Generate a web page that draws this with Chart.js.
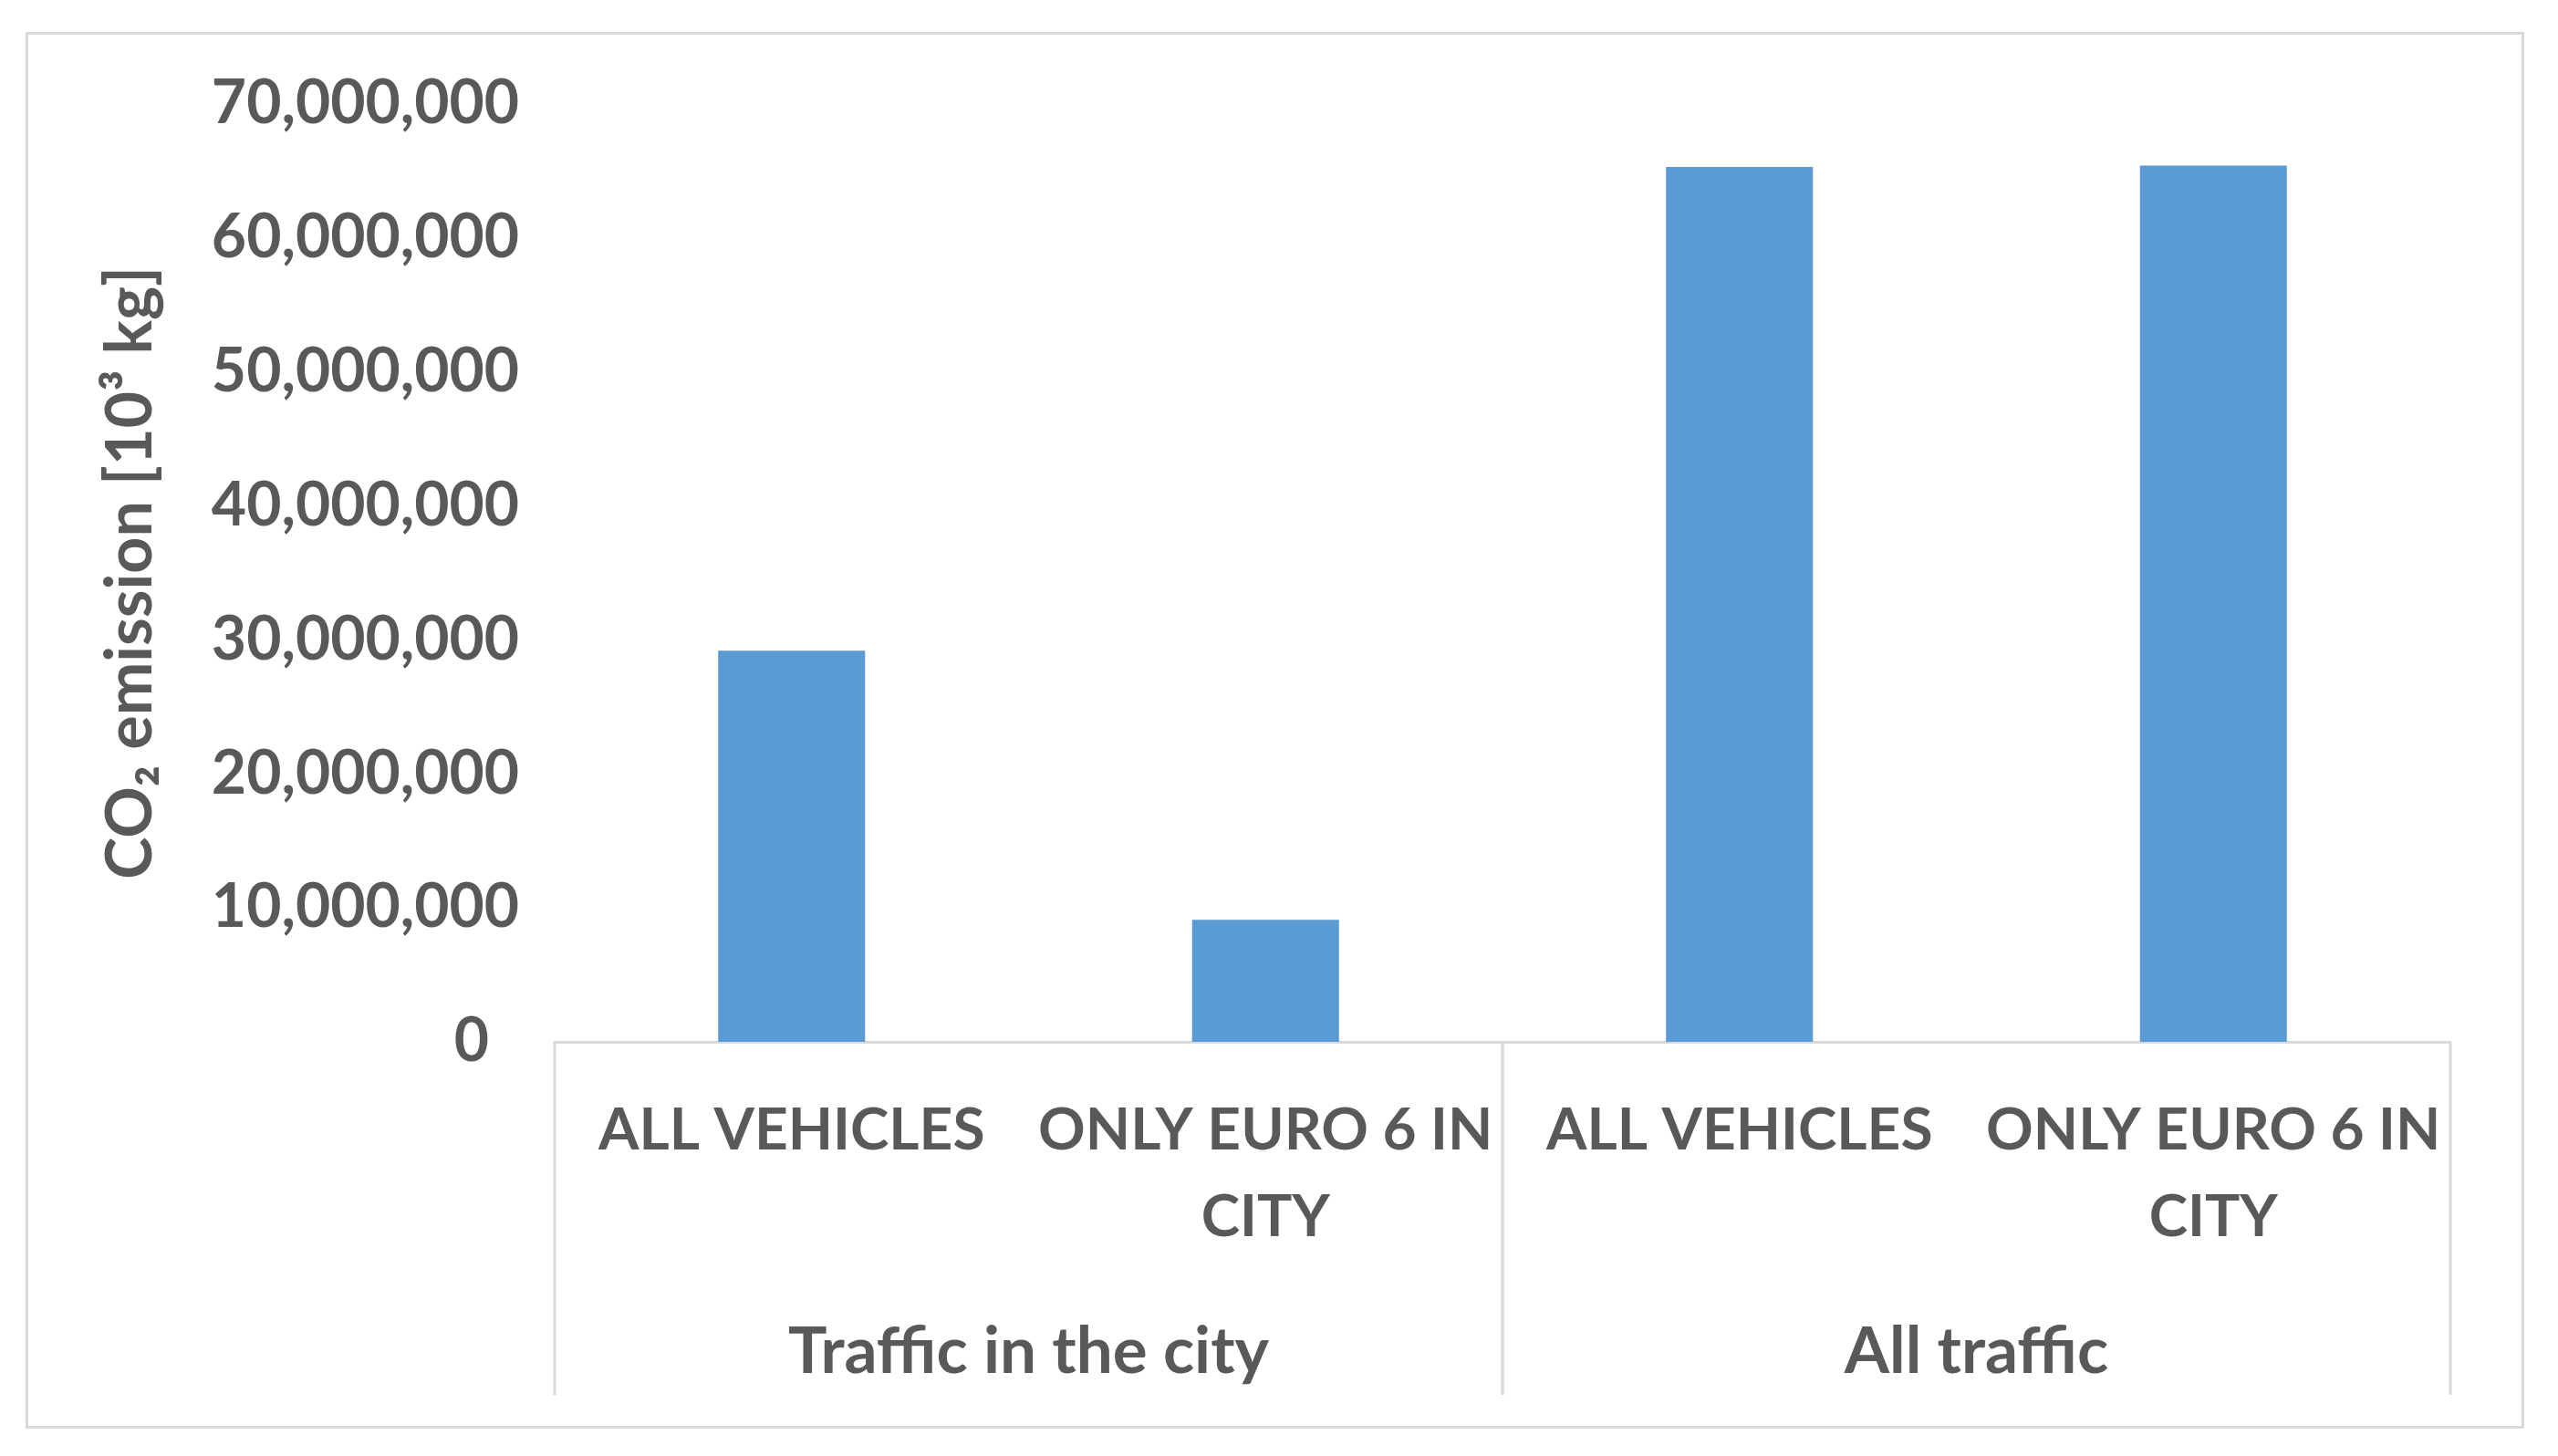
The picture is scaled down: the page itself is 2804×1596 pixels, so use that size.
<!DOCTYPE html>
<html>
<head>
<meta charset="utf-8">
<script src="https://cdn.jsdelivr.net/npm/chart.js@4.4.0/dist/chart.umd.min.js"></script>
<style>
  html, body { margin: 0; padding: 0; background: #fff; }
  canvas { display: block; }
</style>
</head>
<body>
<canvas id="myChart" width="2804" height="1596"></canvas>
<script>
// values
const categories = [['ALL VEHICLES'], ['ONLY EURO 6 IN', 'CITY'], ['ALL VEHICLES'], ['ONLY EURO 6 IN', 'CITY']]
const groups = ['Traffic in the city', 'All traffic']
const groupSize = 2
const emissions = [29200000, 9100000, 65300000, 65400000]
const yTicks = [0, 10000000, 20000000, 30000000, 40000000, 50000000, 60000000, 70000000]
const yTitle = 'CO\u2082 emission [10\u00b3 kg]'

const textColor = '#595959'
const lineColor = '#d9d9d9'
const barColor = '#5b9bd5'
const fontFamily = "Lato, 'Open Sans', sans-serif"

/* frame round the whole chart + the group row under the category labels */
const groupAxis = {
    id: 'groupAxis',
    beforeDraw(chart) {
        const ctx = chart.ctx
        ctx.save()
        ctx.fillStyle = '#fff'
        ctx.fillRect(0, 0, chart.width, chart.height)
        ctx.strokeStyle = lineColor
        ctx.lineWidth = 3
        ctx.strokeRect(29.5, 36.5, 2736, 1528)
        ctx.restore()
    },
    afterDraw(chart) {
        const ctx = chart.ctx
        const x = chart.scales.x
        const half = (x.getPixelForTick(1) - x.getPixelForTick(0)) / 2
        const lineBottom = x.top + 387
        ctx.save()
        ctx.strokeStyle = lineColor
        ctx.lineWidth = 3
        ctx.fillStyle = textColor
        ctx.font = `bold 71px ${fontFamily}`
        ctx.textAlign = 'center'
        ctx.textBaseline = 'middle'
        groups.forEach((label, gi) => {
            const left = x.getPixelForTick(gi * groupSize) - half
            const right = x.getPixelForTick(gi * groupSize + groupSize - 1) + half
            ctx.beginPath()
            ctx.moveTo(left, x.top)
            ctx.lineTo(left, lineBottom)
            ctx.moveTo(right, x.top)
            ctx.lineTo(right, lineBottom)
            ctx.stroke()
            ctx.fillText(label, (left + right) / 2, x.top + 340)
        })
        ctx.restore()
    }
}

const drawChart = () => {
    const ctx = document.getElementById('myChart').getContext('2d')
    new Chart(ctx, {
        type: 'bar',
        data: {
            labels: categories,
            datasets: [{
                data: emissions,
                backgroundColor: barColor,
                categoryPercentage: 1,
                barPercentage: 0.31
            }]
        },
        options: {
            responsive: false,
            animation: false,
            devicePixelRatio: 1,
            layout: { padding: { left: 100, top: 114, right: 118, bottom: 0 } },
            plugins: {
                legend: { display: false },
                tooltip: { enabled: false }
            },
            scales: {
                x: {
                    offset: true,
                    grid: { display: false, drawTicks: false },
                    border: { display: true, color: lineColor, width: 3 },
                    ticks: {
                        color: textColor,
                        font: { family: fontFamily, size: 64, weight: 'bold', lineHeight: 1.48 },
                        padding: 50,
                        maxRotation: 0,
                        autoSkip: false
                    },
                    afterFit: (scale) => { scale.height = 454 }
                },
                y: {
                    min: 0,
                    max: 70000000,
                    grid: { display: false, drawTicks: false },
                    border: { display: false },
                    afterBuildTicks: (scale) => { scale.ticks = yTicks.map(v => ({ value: v })) },
                    ticks: {
                        color: textColor,
                        font: { family: fontFamily, size: 66, weight: 'bold' },
                        padding: 39,
                        // the zero label sits a digit further left in the original
                        callback: (v) => v === 0 ? '0\u2002' : v.toLocaleString('en-US')
                    },
                    title: {
                        display: true,
                        text: yTitle,
                        color: textColor,
                        font: { family: fontFamily, size: 70, weight: 'bold', lineHeight: 1.2 },
                        padding: { top: 1, bottom: 0 }
                    },
                    afterFit: (scale) => { scale.width = 508 }
                }
            }
        },
        plugins: [groupAxis]
    })
}

window.addEventListener('load', () => {
    document.fonts.load(`bold 66px Lato`).then(drawChart, drawChart)
})
</script>
</body>
</html>
